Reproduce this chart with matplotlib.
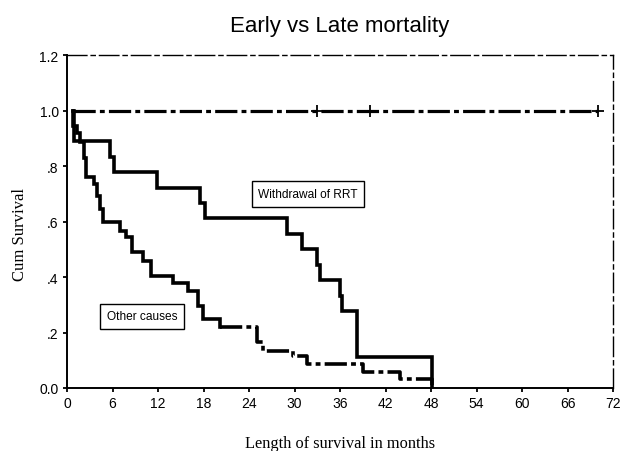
#
# Early vs Late mortality -- Kaplan-Meier style cumulative survival plot
#
import numpy as np
import matplotlib
matplotlib.use("Agg")
import matplotlib.pyplot as plt

plt.rcParams["font.family"] = ["Liberation Sans", "DejaVu Sans"]
plt.rcParams["lines.scale_dashes"] = False

# months / cumulative survival
rrt_months = [0.8, 0.9, 5.7, 6.2, 11.8, 17.5, 18.2, 29.0, 31.0, 32.9, 33.4, 36.0, 36.2, 38.2, 48.1]
rrt_surv = [1.0, 0.889, 0.833, 0.778, 0.722, 0.667, 0.611, 0.556, 0.5, 0.444, 0.389, 0.333, 0.278, 0.111, 0.0]

other_months = [0.8, 0.85, 1.3, 1.7, 2.2, 2.5, 3.5, 3.9, 4.35, 4.8, 7.0, 7.8, 8.6, 10.0, 11.1,
                14.0, 16.0, 17.3, 17.9, 20.2, 25.0, 25.9, 29.8, 31.7, 39.0, 43.9, 48.1]
other_surv = [1.0, 0.946, 0.919, 0.885, 0.83, 0.759, 0.735, 0.693, 0.645, 0.597, 0.567, 0.543, 0.489, 0.459, 0.402,
              0.378, 0.351, 0.297, 0.249, 0.219, 0.165, 0.134, 0.116, 0.086, 0.059, 0.032, 0.0]

# group with no deaths, censored observations only
censored_start = 0.8
censored_months = [33.0, 40.0, 70.0]

x_ticks = list(range(0, 73, 6))
y_ticks = [0.0, 0.2, 0.4, 0.6, 0.8, 1.0, 1.2]
y_tick_labels = ["0.0", ".2", ".4", ".6", ".8", "1.0", "1.2"]

DASHDOT = (0, (16, 3, 3.5, 3))
THIN_DASHDOT = (0, (14, 3, 3, 3))

fig = plt.figure(figsize=(6.24, 4.52), dpi=100)
ax = fig.add_axes([0.1074, 0.1394, 0.875, 0.7366])

# survival curves
ax.step(rrt_months, rrt_surv, where="post", color="black", lw=2.6, solid_joinstyle="miter")

split = other_months.index(20.2)
ax.step(other_months[:split + 1], other_surv[:split + 1], where="post", color="black", lw=2.6,
        solid_joinstyle="miter")
ax.step(other_months[split:], other_surv[split:], where="post", color="black", lw=2.6,
        linestyle=DASHDOT)

flat_x = [censored_start] + censored_months
ax.plot(flat_x, np.ones(len(flat_x)), color="black", lw=2.3, linestyle=DASHDOT)
ax.plot(censored_months, np.ones(len(censored_months)), linestyle="none", marker="+",
        color="black", ms=9, mew=1.3)

ax.text(31.8, 0.699, "Withdrawal of RRT", fontsize=8.6, ha="center", va="center",
        bbox=dict(boxstyle="square,pad=0.55", fc="white", ec="black", lw=1))
ax.text(9.9, 0.259, "Other causes", fontsize=8.6, ha="center", va="center",
        bbox=dict(boxstyle="square,pad=0.55", fc="white", ec="black", lw=1))

ax.set_xlim(0, 72)
ax.set_ylim(0, 1.2)
ax.set_xticks(x_ticks)
ax.set_yticks(y_ticks)
ax.set_yticklabels(y_tick_labels)
ax.tick_params(direction="out", length=3, width=1.3, labelsize=10, pad=3)

for side in ["left", "bottom"]:
    ax.spines[side].set_linewidth(1.4)
for side in ["top", "right"]:
    ax.spines[side].set_linewidth(1.0)
    ax.spines[side].set_linestyle(THIN_DASHDOT)

ax.set_title("Early vs Late mortality", fontsize=16, pad=17)
ax.set_xlabel("Length of survival in months", family="Liberation Serif", fontsize=11.8)
ax.set_ylabel("Cum Survival", family="Liberation Serif", fontsize=12)
ax.xaxis.set_label_coords(0.5, -0.14)
ax.yaxis.set_label_coords(-0.071, 0.465)

plt.savefig("out.png", dpi=100)
